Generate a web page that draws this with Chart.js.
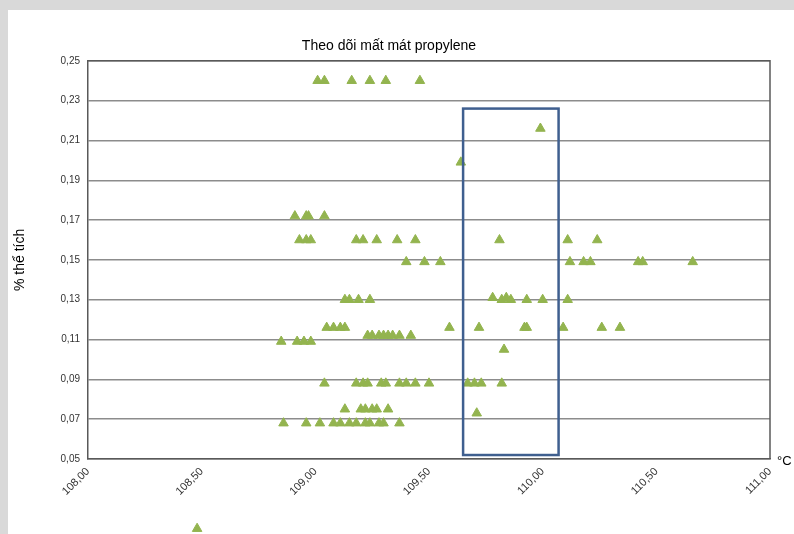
<!DOCTYPE html>
<html>
<head>
<meta charset="utf-8">
<script src="https://cdn.jsdelivr.net/npm/chart.js@4"></script>
<style>
  body { margin: 0; background: #d9d9d9; }
  #khung { position: absolute; left: 8px; top: 10px; width: 786px; height: 524px; background: #fff; }
</style>
</head>
<body>
<div id="khung"><canvas id="bieuDo" width="786" height="524"></canvas></div>
<script>
// Nhiệt độ (°C) và % thể tích propylene
const nhietDo = [
  109.01, 109.04, 109.16, 109.24, 109.31, 109.46,
  109.64, 109.99,
  108.91, 108.96, 108.97, 109.04,
  108.93, 108.96, 108.98, 109.18, 109.21, 109.27, 109.36, 109.44, 109.81, 110.11, 110.24,
  109.40, 109.48, 109.55, 110.12, 110.18, 110.21, 110.42, 110.44, 110.66,
  109.13, 109.15, 109.19, 109.24, 109.78, 109.82, 109.84, 109.86, 109.93, 110.00, 110.11,
  109.05, 109.08, 109.11, 109.13, 109.59, 109.72, 109.92, 109.93, 110.09, 110.26, 110.34,
  109.23, 109.25, 109.28, 109.30, 109.32, 109.34, 109.37, 109.42,
  108.85, 108.92, 108.95, 108.98,
  109.83,
  109.04, 109.18, 109.21, 109.23, 109.29, 109.31, 109.37, 109.40, 109.44, 109.50, 109.67, 109.70, 109.73, 109.82,
  109.13, 109.20, 109.22, 109.25, 109.27, 109.32,
  109.71,
  108.86, 108.96, 109.02, 109.08, 109.11, 109.15, 109.18, 109.22, 109.24, 109.28, 109.30, 109.37,
  108.48
];
const theTich = [
  0.240, 0.240, 0.240, 0.240, 0.240, 0.240,
  0.199, 0.216,
  0.172, 0.172, 0.172, 0.172,
  0.160, 0.160, 0.160, 0.160, 0.160, 0.160, 0.160, 0.160, 0.160, 0.160, 0.160,
  0.149, 0.149, 0.149, 0.149, 0.149, 0.149, 0.149, 0.149, 0.149,
  0.130, 0.130, 0.130, 0.130, 0.131, 0.130, 0.131, 0.130, 0.130, 0.130, 0.130,
  0.116, 0.116, 0.116, 0.116, 0.116, 0.116, 0.116, 0.116, 0.116, 0.116, 0.116,
  0.112, 0.112, 0.112, 0.112, 0.112, 0.112, 0.112, 0.112,
  0.109, 0.109, 0.109, 0.109,
  0.105,
  0.088, 0.088, 0.088, 0.088, 0.088, 0.088, 0.088, 0.088, 0.088, 0.088, 0.088, 0.088, 0.088, 0.088,
  0.075, 0.075, 0.075, 0.075, 0.075, 0.075,
  0.073,
  0.068, 0.068, 0.068, 0.068, 0.068, 0.068, 0.068, 0.068, 0.068, 0.068, 0.068, 0.068,
  0.015
];
// Vùng đánh dấu (khung xanh)
const vungX = [109.65, 110.07];
const vungY = [0.052, 0.226];

const diem = nhietDo.map((x, i) => ({ x: x, y: theTich[i] }));

const veKhung = {
  id: 'veKhung',
  afterDatasetsDraw(chart) {
    const { ctx, scales: { x, y }, chartArea: a } = chart;
    ctx.save();
    // viền trên và phải của vùng vẽ
    ctx.strokeStyle = '#595959';
    ctx.lineWidth = 1.5;
    ctx.beginPath();
    ctx.moveTo(a.left, a.top); ctx.lineTo(a.right, a.top); ctx.lineTo(a.right, a.bottom);
    ctx.stroke();
    // khung đánh dấu
    ctx.strokeStyle = '#3f5f8f';
    ctx.lineWidth = 2.5;
    const x0 = x.getPixelForValue(vungX[0]), x1 = x.getPixelForValue(vungX[1]);
    const y0 = y.getPixelForValue(vungY[1]), y1 = y.getPixelForValue(vungY[0]);
    ctx.strokeRect(x0, y0, x1 - x0, y1 - y0);
    // các điểm nằm ngoài vùng vẽ (Chart.js bỏ qua)
    const meta = chart.getDatasetMeta(0);
    ctx.fillStyle = '#93b44f';
    ctx.strokeStyle = '#93b44f';
    ctx.lineWidth = 1;
    meta.data.forEach(p => {
      if (p.y > a.bottom + 1 || p.y < a.top - 1) {
        Chart.helpers.drawPoint(ctx, { pointStyle: 'triangle', radius: 5.5, borderWidth: 1 }, p.x, p.y);
      }
    });
    // đơn vị trục x
    ctx.fillStyle = '#000';
    ctx.font = '13px "Liberation Sans", Arial';
    ctx.textBaseline = 'top';
    ctx.fillText('°C', a.right + 7, a.bottom - 4);
    ctx.restore();
  }
};

new Chart(document.getElementById('bieuDo'), {
  type: 'scatter',
  data: {
    datasets: [{
      data: diem,
      pointStyle: 'triangle',
      radius: 5.5,
      backgroundColor: '#93b44f',
      borderColor: '#93b44f',
      clip: false
    }]
  },
  options: {
    responsive: false,
    animation: false,
    layout: { padding: { right: 24, bottom: 0 } },
    plugins: {
      legend: { display: false },
      tooltip: { enabled: false },
      title: {
        display: true,
        text: 'Theo dõi mất mát propylene',
        color: '#000',
        font: { family: '"Liberation Sans", Arial', size: 14, weight: 'normal' },
        padding: { top: 28, bottom: 6 }
      }
    },
    scales: {
      x: {
        type: 'linear',
        min: 108, max: 111,
        afterFit(s) { s.height = 75; },
        grid: { display: false, drawTicks: false },
        border: { color: '#595959', width: 1.5 },
        ticks: {
          stepSize: 0.5,
          autoSkip: false,
          padding: 6,
          minRotation: 45, maxRotation: 45,
          color: '#333',
          font: { family: '"Liberation Sans", Arial', size: 11 },
          callback: v => v.toFixed(2).replace('.', ',')
        }
      },
      y: {
        min: 0.05, max: 0.25,
        afterFit(s) { s.width = 80; },
        grid: { color: '#8c8c8c', lineWidth: 1.5, drawTicks: false },
        border: { color: '#595959', width: 1.5 },
        title: {
          display: true,
          text: '% thể tích',
          color: '#000',
          font: { family: '"Liberation Sans", Arial', size: 14 }
        },
        ticks: {
          stepSize: 0.02,
          autoSkip: false,
          padding: 8,
          color: '#333',
          font: { family: '"Liberation Sans", Arial', size: 10 },
          callback: v => v.toFixed(2).replace('.', ',')
        }
      }
    }
  },
  plugins: [veKhung]
});
</script>
</body>
</html>
